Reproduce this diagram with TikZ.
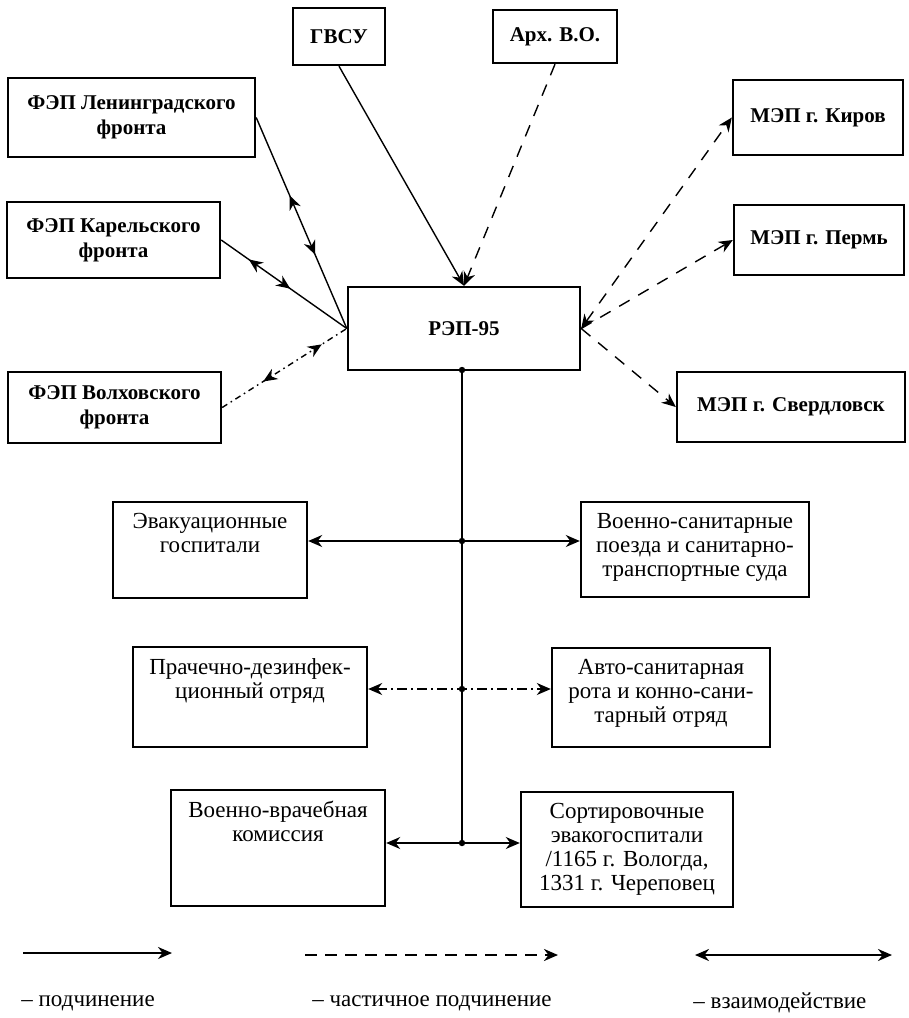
\documentclass[tikz,border=0pt]{standalone}
\usepackage{fontspec}
\setmainfont{Liberation Serif}
\usetikzlibrary{arrows.meta, positioning, decorations.markings}

\begin{document}
\begin{tikzpicture}[x=0.5pt, y=-0.5pt,
      unit/.style={rectangle, draw, line width=1.2pt, align=center, inner sep=1pt, font=\bfseries\fontsize{10.5}{12.5}\selectfont},
      lowunit/.style={rectangle, draw, line width=1.2pt},
      lowtext/.style={anchor=north, draw=none, align=center, inner sep=0pt, yshift=-6pt, font=\fontsize{11.5}{12}\selectfont},
      legtext/.style={anchor=west, inner sep=0pt, font=\fontsize{11.5}{13}\selectfont},
      conn/.style={line width=0.7pt},
      subord/.style={-{Stealth[length=7pt, width=6pt]}, line width=0.7pt},
      partsub/.style={-{Stealth[length=7pt, width=6pt]}, line width=0.7pt, dash pattern=on 6pt off 5pt},
      partboth/.style={{Stealth[length=7pt, width=6pt]}-{Stealth[length=7pt, width=6pt]}, line width=0.7pt, dash pattern=on 6pt off 5pt},
      interact/.style={{Stealth[length=7pt, width=6pt]}-{Stealth[length=7pt, width=6pt]}, line width=0.8pt},
      interdash/.style={{Stealth[length=7pt, width=6pt]}-{Stealth[length=7pt, width=6pt]}, line width=0.7pt, dash pattern=on 5pt off 2pt on 1pt off 2pt},
      twohead/.style n args={2}{postaction={decorate, decoration={markings,
          mark=at position #1 with {\arrowreversed{Stealth[length=7pt, width=6pt]}},
          mark=at position #2 with {\arrow{Stealth[length=7pt, width=6pt]}}}}},
    ]
    \useasboundingbox (0,0) rectangle (909,1018);

    % upper part
    \node[unit, minimum width=46pt, minimum height=28.5pt] (gvsu) at (339,36.5) {ГВСУ};
    \node[unit, minimum width=62pt, minimum height=26.5pt] (arh) at (555,36.5) {Арх. В.О.};
    \node[unit, minimum width=123.5pt, minimum height=39.5pt] (len) at (131.5,117.5) {ФЭП Ленинградского\\фронта};
    \node[unit, minimum width=106.5pt, minimum height=38pt] (kar) at (113.5,240) {ФЭП Карельского\\фронта};
    \node[unit, minimum width=106.5pt, minimum height=35.5pt] (volh) at (114.5,407.5) {ФЭП Волховского\\фронта};
    \node[unit, minimum width=116pt, minimum height=41.5pt] (rep) at (464,328.5) {РЭП-95};
    \node[unit, minimum width=85pt, minimum height=37.5pt] (kir) at (818,117.5) {МЭП г. Киров};
    \node[unit, minimum width=85pt, minimum height=35pt] (perm) at (819,240) {МЭП г. Пермь};
    \node[unit, minimum width=114pt, minimum height=35pt] (sverd) at (791,407) {МЭП г. Свердловск};

    \draw[subord] (gvsu.south) -- (rep.north);
    \draw[partsub] (arh.south) -- (rep.north);
    \draw[conn, twohead={0.37}{0.65}] (len.east) -- (rep.west);
    \draw[conn, twohead={0.22}{0.55}] (kar.east) -- (rep.west);
    \draw[conn, dash pattern=on 3pt off 2pt on 0.8pt off 2pt, twohead={0.33}{0.8}] (volh.east) -- (rep.west);
    \draw[partboth] (rep.east) -- (kir.west);
    \draw[partsub] (rep.east) -- (perm.west);
    \draw[partsub] (rep.east) -- (sverd.west);

    % lower part
    \node[lowunit, minimum width=97pt, minimum height=48pt, label={[lowtext]north:{Эвакуационные\\госпитали}}] (evac) at (210,550) {};
    \node[lowunit, minimum width=114pt, minimum height=47.5pt, label={[lowtext]north:{Военно-санитарные\\поезда и санитарно-\\транспортные суда}}] (vsp) at (695,549.5) {};
    \node[lowunit, minimum width=117pt, minimum height=50pt, label={[lowtext]north:{Прачечно-дезинфек-\\ционный отряд}}] (prach) at (250,697) {};
    \node[lowunit, minimum width=109pt, minimum height=49.5pt, label={[lowtext]north:{Авто-санитарная\\рота и конно-сани-\\тарный отряд}}] (avto) at (661,697.5) {};
    \node[lowunit, minimum width=107pt, minimum height=58pt, label={[lowtext]north:{Военно-врачебная\\комиссия}}] (vvk) at (278,848) {};
    \node[lowunit, minimum width=106pt, minimum height=57.5pt, label={[lowtext]north:{Сортировочные\\эвакогоспитали\\/1165 г. Вологда,\\1331 г. Череповец}}] (sort) at (627,849.5) {};

    \coordinate (jrep) at (462,370);
    \coordinate (jevac) at (462,541);
    \coordinate (jprach) at (462,689);
    \coordinate (jvvk) at (462,843);
    \draw[conn] (jrep) -- (jvvk);
    \foreach \j in {jrep, jevac, jprach, jvvk}
      \fill (\j) circle (1.6pt);

    \draw[interact] (evac.east |- jevac) -- (vsp.west |- jevac);
    \draw[interdash] (prach.east |- jprach) -- (avto.west |- jprach);
    \draw[interact] (vvk.east |- jvvk) -- (sort.west |- jvvk);

    % legend
    \coordinate (l1a) at (23,953);
    \coordinate (l1b) at (172,953);
    \coordinate (l2a) at (305,955);
    \coordinate (l2b) at (558,955);
    \coordinate (l3a) at (695,955);
    \coordinate (l3b) at (892,955);
    \draw[subord, line width=1.1pt] (l1a) -- (l1b);
    \draw[partsub, line width=1.3pt, dash pattern=on 6pt off 4pt] (l2a) -- (l2b);
    \draw[interact, line width=1.1pt] (l3a) -- (l3b);

    \node[legtext] (leg1) at (21,1003) {– подчинение};
    \node[legtext] (leg2) at (312,1003) {– частичное подчинение};
    \node[legtext] (leg3) at (693,1003) {– взаимодействие};
  \end{tikzpicture}
\end{document}
